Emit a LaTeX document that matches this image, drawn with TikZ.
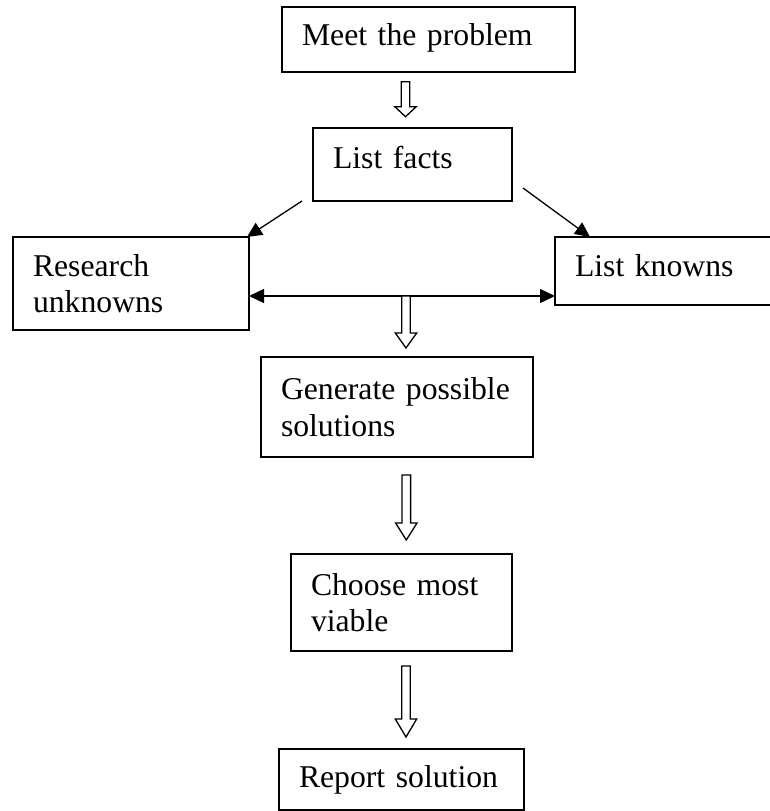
\documentclass[tikz,border=0pt]{standalone}
\usepackage{fontspec}
\setmainfont{Liberation Serif}
\usetikzlibrary{arrows.meta,calc}
\newcommand\hollowarrow[3]{\draw[hollowst] ($(#1)+(-4.3,0)$) -- ++(8.6,0) -- ++(0,{#2-#3}) -- ++(6.4,0) -- ++(-10.7,#3) -- ++(-10.7,-#3) -- ++(6.4,0) -- cycle;}
\newcommand\lift[2]{\raisebox{#1}[\height][\depth]{#2}}
\begin{document}
\begin{tikzpicture}[x=1pt,y=-1pt,
  box/.style={draw, line width=1.6pt, rectangle, anchor=north west, align=left,
    inner xsep=20pt, inner ysep=0pt, outer sep=0pt,
    font=\fontsize{31.7}{36.6}\selectfont},
  thinarr/.style={line width=1.3pt, -{Triangle[length=15pt,width=14pt]}},
  hollowst/.style={draw, line width=1.3pt, fill=white, line join=miter}]
\useasboundingbox (0,0) rectangle (770,811);
\clip (0,0) rectangle (770,811);
\node[box, text width=253pt, minimum height=65pt] (meet) at (282,7) {\lift{2pt}{Meet the problem}};
\node[box, text width=159pt, minimum height=73pt] (facts) at (313,128) {\lift{7pt}{List facts}};
\node[box, text width=196pt, minimum height=93pt] (research) at (13,237) {Research\\unknowns};
\node[box, text width=185pt, minimum height=68pt] (knowns) at (555,237) {\lift{5pt}{List knowns}};
\node[box, text width=232pt, minimum height=100pt] (generate) at (261,357) {Generate possible\\solutions};
\node[box, text width=181pt, minimum height=97pt] (choose) at (291,554) {Choose most\\viable};
\node[box, text width=205pt, minimum height=61pt] (report) at (279,749) {Report solution};
\draw[thinarr] ($(facts.south west)+(-11,0)$) -- ($(research.north east)+(-2,0)$);
\draw[thinarr] ($(facts.south east)+(11,-13)$) -- ($(knowns.north west)+(35,0)$);
\coordinate (split) at (406,296);
\draw[line width=1.3pt, {Triangle[length=15pt,width=14pt]}-{Triangle[length=15pt,width=14pt]}] (research.east |- split) -- (knowns.west |- split);
\coordinate (h1) at (405.5,81.7);
\coordinate (h3) at (406.3,475);
\coordinate (h4) at (406,666);
\hollowarrow{h1}{35}{10}
\hollowarrow{split}{52}{15}
\hollowarrow{h3}{65}{17}
\hollowarrow{h4}{71}{18}
\end{tikzpicture}
\end{document}
